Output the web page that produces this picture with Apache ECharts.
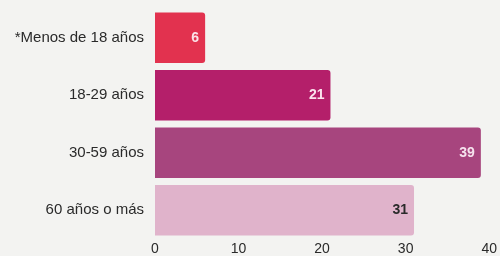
<!DOCTYPE html>
<html>
<head>
<meta charset="utf-8">
<script src="https://cdn.jsdelivr.net/npm/echarts@6/dist/echarts.min.js"></script>
<style>
  html, body { margin: 0; padding: 0; background: #f3f3f1; }
  #chart { width: 500px; height: 256px; }
</style>
</head>
<body>
<div id="chart"></div>
<script>
  const categories = ['*Menos de 18 años', '18-29 años', '30-59 años', '60 años o más'];
  const values = [6, 21, 39, 31];
  const barColors = ['#e2324f', '#b41f6a', '#a7457e', '#e0b3cb'];
  const labelColors = ['#fbe3e8', '#fbe3ee', '#f6e3ee', '#2a2a2a'];

  const chart = echarts.init(document.getElementById('chart'));
  chart.setOption({
    backgroundColor: '#f3f3f1',
    animation: false,
    grid: { left: 155, right: 7, top: 9, bottom: 15 },
    xAxis: {
      type: 'value',
      min: 0,
      max: 40,
      interval: 10,
      axisLine: { show: false },
      axisTick: { show: false },
      splitLine: { show: false },
      axisLabel: {
        color: '#2a2a2a',
        fontFamily: 'Liberation Sans',
        fontSize: 14,
        margin: 3
      }
    },
    yAxis: {
      type: 'category',
      inverse: true,
      data: categories,
      axisLine: { show: false },
      axisTick: { show: false },
      axisLabel: {
        color: '#2a2a2a',
        fontFamily: 'Liberation Sans',
        fontSize: 15,
        margin: 11
      }
    },
    series: [
      {
        type: 'bar',
        barCategoryGap: '12%',
        data: values.map((v, i) => ({
          value: v,
          itemStyle: { color: barColors[i], borderRadius: [0, 3, 3, 0] },
          label: { color: labelColors[i] }
        })),
        label: {
          show: true,
          position: 'insideRight',
          distance: 6,
          fontFamily: 'Liberation Sans',
          fontWeight: 'bold',
          fontSize: 14
        }
      }
    ]
  });
</script>
</body>
</html>
